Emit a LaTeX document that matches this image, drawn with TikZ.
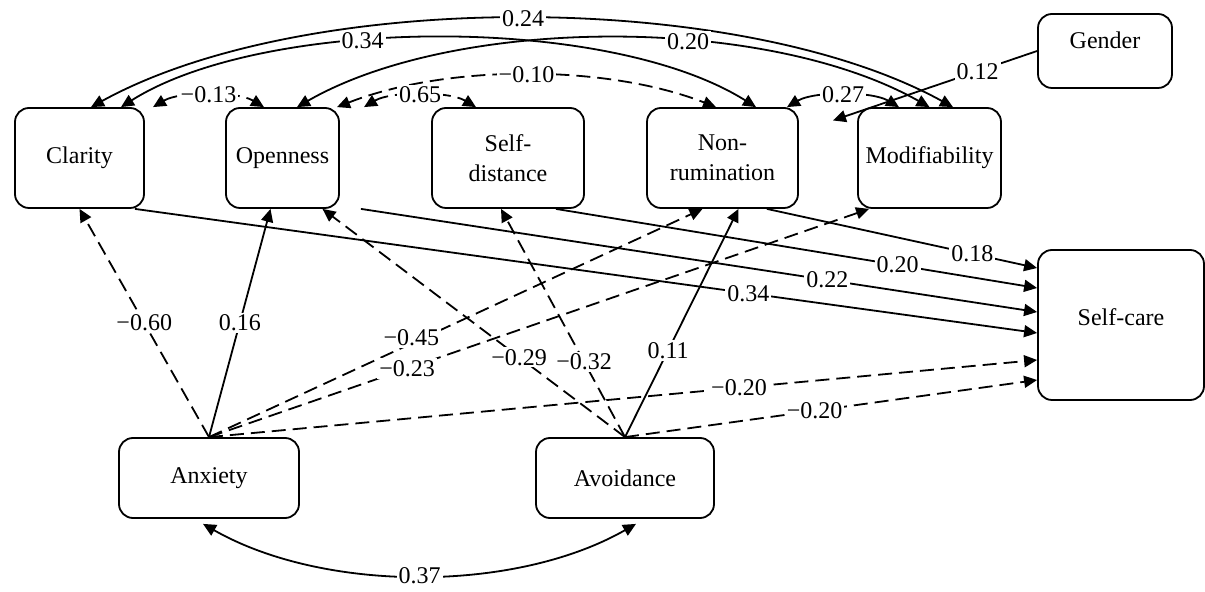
\documentclass[tikz,border=0pt]{standalone}
\usepackage{fontspec}
\setmainfont{Liberation Serif}
\usetikzlibrary{arrows.meta}

\begin{document}
\begin{tikzpicture}[
		x=0.5pt, y=-0.5pt,
		line width=0.9pt,
		every node/.style={font=\fontsize{12}{15}\selectfont},
		var/.style={rectangle, draw, rounded corners=7pt, align=center, minimum height=50pt},
		wt/.style={fill=white, inner sep=1pt},
		reg/.style={-{Triangle[length=6.5pt, width=6pt]}},
		cov/.style={{Triangle[length=6.5pt, width=6pt]}-{Triangle[length=6.5pt, width=6pt]}},
		neg/.style={dash pattern=on 7pt off 3.5pt}
	]
  \useasboundingbox (0,0) rectangle (1205,592);
  \node[var, minimum width=64.5pt] (clar) at (79.5,158) {Clarity};
  \node[var, minimum width=56.5pt] (open) at (282.5,158) {Openness};
  \node[var, minimum width=76pt] (self_d) at (508,158) {Self-\\distance};
  \node[var, minimum width=75.5pt] (non_r) at (722.5,158) {Non-\\rumination};
  \node[var, minimum width=71.5pt] (modif) at (929.5,158) {Modifiability};
  \node[var, minimum width=67pt, minimum height=37pt, text depth=10.5pt] (gend) at (1105,51) {Gender};
  \node[var, minimum width=83pt, minimum height=75pt, text depth=8pt] (self_c) at (1121,325) {Self-care};
  \node[var, minimum width=90pt, minimum height=40pt] (anx) at (209,478) {Anxiety};
  \node[var, minimum width=89pt, minimum height=40pt] (avoid) at (625,478) {Avoidance};

  \draw[cov] ([xshift=5.75pt]clar.north) .. controls +(216,-119) and +(-213,-117) .. ([xshift=11.75pt]modif.north) node[wt, pos=0.5] {0.24};
  \draw[cov] ([xshift=20.75pt]clar.north) .. controls +(142,-90) and +(-150,-94) .. ([xshift=16.75pt]non_r.north) node[wt, pos=0.4] {0.34};
  \draw[cov] ([xshift=7.25pt]open.north) .. controls +(158,-91) and +(-165,-93) .. (modif.north) node[wt, pos=0.61] {0.20};
  \draw[cov, neg] ([xshift=27.25pt]open.north) .. controls +(110,-43) and +(-110,-43) .. ([xshift=-3.25pt]non_r.north) node[wt, pos=0.5] {−0.10};
  \draw[cov, neg] ([xshift=36.75pt]clar.north) .. controls +(27,-16) and +(-27,-16) .. ([xshift=-9.25pt]open.north) node[wt, pos=0.5] {−0.13};
  \draw[cov, neg] ([xshift=40.75pt]open.north) .. controls +(27,-16) and +(-27,-16) .. ([xshift=-16pt]self_d.north) node[wt, pos=0.5] {0.65};
  \draw[cov] ([xshift=32.25pt]non_r.north) .. controls +(27,-16) and +(-27,-16) .. ([xshift=-15.25pt]modif.north) node[wt, pos=0.5] {0.27};
  \draw[reg, shorten >=18pt] (gend.west) -- (non_r) node[wt, pos=0.25] {0.12};

  \draw[reg] ([xshift=-5pt]clar.south east) -- ([yshift=-4pt]self_c.west) node[wt, pos=0.68] {0.34};
  \draw[reg] ([xshift=10.5pt]open.south east) -- ([yshift=6.5pt]self_c.west) node[wt, pos=0.69] {0.22};
  \draw[reg] ([xshift=-14.5pt]self_d.south east) -- ([yshift=18.5pt]self_c.west) node[wt, pos=0.71] {0.20};
  \draw[reg] ([xshift=-16pt]non_r.south east) -- ([yshift=28.5pt]self_c.west) node[wt, pos=0.76] {0.18};

  \draw[reg, neg] (anx.north) -- (clar.south) node[wt, pos=0.5] {−0.60};
  \draw[reg] (anx.north) -- ([xshift=-6pt]open.south) node[wt, pos=0.5] {0.16};
  \draw[reg, neg] (anx.north) -- ([xshift=-10pt]non_r.south) node[wt, pos=0.41, yshift=3pt] {−0.45};
  \draw[reg, neg] (anx.north) -- ([xshift=6pt]modif.south west) node[wt, pos=0.3] {−0.23};
  \draw[reg, neg] (anx.north) -- ([yshift=-17.5pt]self_c.west) node[wt, pos=0.64] {−0.20};

  \draw[reg, neg] (avoid.north) -- ([xshift=20pt]open.south) node[wt, pos=0.35] {−0.29};
  \draw[reg, neg] (avoid.north) -- ([xshift=-3.5pt]self_d.south) node[wt, pos=0.33] {−0.32};
  \draw[reg] (avoid.north) -- ([xshift=8pt]non_r.south) node[wt, pos=0.38] {0.11};
  \draw[reg, neg] (avoid.north) -- ([yshift=-27.5pt]self_c.west) node[wt, pos=0.46] {−0.20};

  \draw[cov] ([xshift=-3pt, yshift=-2.5pt]anx.south) .. controls +(121,69) and +(-121,69) .. ([xshift=5.5pt, yshift=-2.5pt]avoid.south) node[wt, pos=0.5] {0.37};
\end{tikzpicture}
\end{document}
